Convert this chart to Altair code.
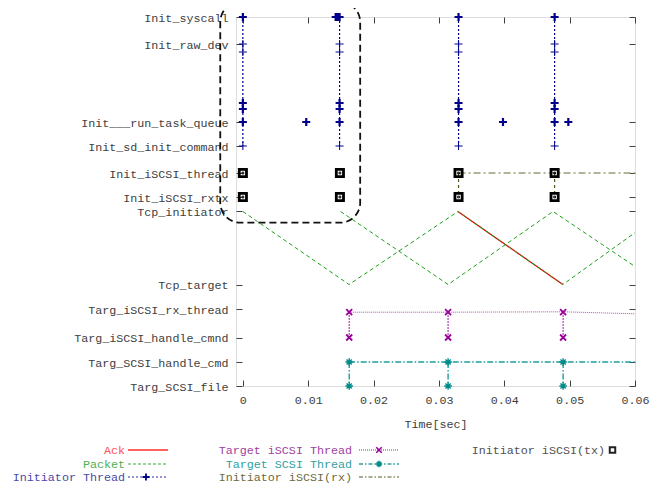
import altair as alt
import pandas as pd

# ---------------- data ----------------
lane_names = ["Init_syscall", "Init_raw_dev", "Init___run_task_queue", "Init_sd_init_command",
              "Init_iSCSI_thread", "Init_iSCSI_rxtx", "Tcp_initiator", "Tcp_target",
              "Targ_iSCSI_rx_thread", "Targ_iSCSI_handle_cmnd", "Targ_SCSI_handle_cmd", "Targ_SCSI_file"]
lane_levels = [36.9, 34.2, 26.4, 24.0, 21.3, 18.9, 17.45, 10.15, 7.7, 4.85, 2.4, 0.0]
x_ticks = [0, 0.01, 0.02, 0.03, 0.04, 0.05, 0.06]

# Initiator thread
init_cols = [0.0, 0.0148, 0.0330, 0.0477]
init_thin_levels = [34.2, 33.4, 24.0]
init_bold_levels = [36.9, 28.3, 27.7, 26.4]
init_extra_t = [0.0097, 0.0398, 0.0498]
init_extra_level = 26.4
init_burst_t = [0.0142, 0.0144, 0.0146]
init_burst_level = 36.9
init_span = [36.9, 24.0]

# Initiator iSCSI (tx) squares
tx_cols = [0.0, 0.01485, 0.0330, 0.0477]
tx_levels = [21.3, 18.9]

# Initiator iSCSI (rx) lines
rx_h_t = [0.0330, 0.0477, 0.0600]
rx_h_level = 21.3
rx_v_t = [0.0330, 0.0477]
rx_v_span = [21.3, 18.9]

# Packets and ack
pktA_t = [0.0, 0.01625, 0.0329, 0.04896, 0.0645]
pktA_y = [17.45, 10.15, 17.45, 10.15, 17.45]
pktB_t = [0.01495, 0.0314, 0.04746, 0.0641]
pktB_y = [17.45, 10.15, 17.45, 10.15]
ack_t = [0.0329, 0.04896]
ack_y = [17.45, 10.15]

# Target iSCSI thread
targ_cols = [0.01627, 0.0314, 0.0490]
tisc_line_t = [0.01627, 0.0314, 0.0490, 0.0600]
tisc_line_y = [7.38, 7.38, 7.42, 7.22]
tisc_levels = [7.38, 4.85]

# Target SCSI thread
tscsi_line_t = [0.01627, 0.0314, 0.0490, 0.0600]
tscsi_line_level = 2.4
tscsi_levels = [2.4, 0.0]

# highlight box
box_t = [-0.00346, 0.01795]
box_y = [38.4, 16.33]

legend_col1 = ["Ack", "Packet", "Initiator Thread"]
legend_col2 = ["Target iSCSI Thread", "Target SCSI Thread", "Initiator iSCSI(rx)"]
legend_col3 = ["Initiator iSCSI(tx)"]

# ---------------- helpers ----------------
FONT = "Liberation Mono"
FS = 11.7
PLUS = "M-1,0L1,0M0,-1L0,1"
XS = "M-1,-1L1,1M-1,1L1,-1"
STAR = "M-1,0L1,0M0,-1L0,1M-0.7,-0.7L0.7,0.7M-0.7,0.7L0.7,-0.7"

xs = alt.Scale(domain=[-0.00105, 0.06], nice=False, zero=False)
ys = alt.Scale(domain=[0, 36.9], nice=False, zero=False)


def X(field="t"):
    return alt.X(f"{field}:Q", scale=xs, axis=None)


def Y(field="y"):
    return alt.Y(f"{field}:Q", scale=ys, axis=None)


def segs(groups):
    rows = []
    for g, (ts, yv) in enumerate(groups):
        for i, (a, b) in enumerate(zip(ts, yv)):
            rows.append({"t": a, "y": b, "g": g, "i": i})
    return pd.DataFrame(rows)


def line_layer(df, color, dash, width=1.0):
    kw = dict(color=color, strokeWidth=width, clip=True)
    if dash:
        kw["strokeDash"] = dash
    return alt.Chart(df).mark_line(**kw).encode(
        x=X(), y=Y(), detail="g:N", order="i:Q")


def pts(ts, yv):
    return pd.DataFrame({"t": ts, "y": yv})


def point_layer(df, shape, color, size, width=1.0):
    return alt.Chart(df).mark_point(shape=shape, filled=False, stroke=color, strokeWidth=width,
                                    size=size, opacity=1, clip=False).encode(x=X(), y=Y())


layers = []

# highlight rounded box
box_df = pd.DataFrame({"t": [box_t[0]], "t2": [box_t[1]], "y": [box_y[0]], "y2": [box_y[1]]})
layers.append(alt.Chart(box_df).mark_rect(fill="white", fillOpacity=0, stroke="#111111", strokeWidth=1.8,
                                          strokeDash=[7, 4], cornerRadius=20, clip=False).encode(
    x=X(), x2="t2:Q", y=Y(), y2="y2:Q"))

# Ack (red) then packets (green)
layers.append(line_layer(segs([(ack_t, ack_y)]), "#e00000", None, 1.2))
layers.append(line_layer(segs([(pktA_t, pktA_y), (pktB_t, pktB_y)]), "#1e9e1e", [4, 3], 1.0))

# Initiator thread verticals and markers
layers.append(line_layer(segs([([c, c], init_span) for c in init_cols]), "#00008b", [2, 2], 1.2))
thin = pts([c for c in init_cols for _ in init_thin_levels], [l for _ in init_cols for l in init_thin_levels])
bold = pts([c for c in init_cols for _ in init_bold_levels] + init_extra_t + init_burst_t,
           [l for _ in init_cols for l in init_bold_levels] + [init_extra_level] * len(init_extra_t)
           + [init_burst_level] * len(init_burst_t))
layers.append(point_layer(thin, PLUS, "#00008b", 64, 1.0))
layers.append(point_layer(bold, PLUS, "#00008b", 64, 2.2))

# Initiator iSCSI rx lines
layers.append(line_layer(segs([(rx_h_t, [rx_h_level] * len(rx_h_t))]), "#9a9a78", [7, 3, 2, 3], 1.5))
layers.append(line_layer(segs([([c, c], rx_v_span) for c in rx_v_t]), "#55551e", [3, 3], 1.2))

# tx squares
sq = pts([c for c in tx_cols for _ in tx_levels], [l for _ in tx_cols for l in tx_levels])
layers.append(point_layer(sq, "square", "#000000", 52, 2.8))
layers.append(point_layer(sq, "square", "#000000", 3, 1.0))

# Target iSCSI thread
layers.append(line_layer(segs([(tisc_line_t, tisc_line_y)]), "#b050b0", [1, 1], 1.0))
layers.append(line_layer(segs([([c, c], tisc_levels) for c in targ_cols]), "#990099", [1.5, 1.5], 1.2))
tis = pts([c for c in targ_cols for _ in tisc_levels], [l for _ in targ_cols for l in tisc_levels])
layers.append(point_layer(tis, XS, "#990099", 36, 1.8))

# Target SCSI thread
layers.append(line_layer(segs([(tscsi_line_t, [tscsi_line_level] * len(tscsi_line_t))]), "#20a0a0",
                         [6, 2, 1.5, 2], 1.4))
layers.append(line_layer(segs([([c, c], tscsi_levels) for c in targ_cols]), "#008b8b", [6, 2, 1.5, 2], 1.2))
tsc = pts([c for c in targ_cols for _ in tscsi_levels], [l for _ in targ_cols for l in tscsi_levels])
layers.append(point_layer(tsc, STAR, "#008b8b", 56, 1.4))

# ---------------- axes carriers ----------------
label_expr = ("[" + ",".join(f"'{n}'" for n in lane_names) + "][indexof(["
              + ",".join(str(v) for v in lane_levels) + "], datum.value)]")
axis_df = pd.DataFrame({"t": [0.0] * len(lane_levels), "y": lane_levels})
common = dict(tickSize=6, offset=-6, domain=False, grid=False, tickColor="#404040")
layers.append(alt.Chart(axis_df).mark_point(opacity=0).encode(
    x=alt.X("t:Q", scale=xs, axis=alt.Axis(orient="bottom", values=x_ticks, format="~g", labelPadding=8,
                                           labelFlush=False, labelOverlap=False,
                                           labelFont=FONT, labelFontSize=FS, labelColor="#404040",
                                           title="Time[sec]", titleFont=FONT, titleFontSize=FS,
                                           titleFontWeight="normal", titleColor="#404040", titlePadding=13,
                                           **common)),
    y=alt.Y("y:Q", scale=ys, axis=alt.Axis(orient="left", values=lane_levels, labelExpr=label_expr,
                                           labelPadding=8, labelFont=FONT, labelFontSize=FS,
                                           labelFlush=False, labelOverlap=False,
                                           labelColor="#404040", title=None, **common))))
layers.append(alt.Chart(axis_df).mark_point(opacity=0).encode(
    x=alt.X("t:Q", scale=xs, axis=alt.Axis(orient="top", values=x_ticks, labels=False, title=None,
                                           tickSize=6, offset=-6, domain=False, grid=False,
                                           tickColor="#404040")),
    y=alt.Y("y:Q", scale=ys, axis=alt.Axis(orient="right", values=lane_levels, labels=False, title=None,
                                           **common))))

# ---------------- manual key (gnuplot style) ----------------
one = pd.DataFrame({"a": [0]})
row_y = [433, 447, 460]


def key_text(label, color, xr, yv):
    return alt.Chart(one).mark_text(text=label, align="right", baseline="middle", font=FONT, fontSize=FS,
                                    color=color).encode(x=alt.value(xr), y=alt.value(yv))


def key_rule(color, x1, x2, yv, dash, width):
    kw = dict(color=color, strokeWidth=width)
    if dash:
        kw["strokeDash"] = dash
    return alt.Chart(one).mark_rule(**kw).encode(x=alt.value(x1), x2=alt.value(x2), y=alt.value(yv))


def key_point(shape, color, xv, yv, size, width):
    return alt.Chart(one).mark_point(shape=shape, filled=False, stroke=color, strokeWidth=width, size=size,
                                     opacity=1).encode(x=alt.value(xv), y=alt.value(yv))


c1_text = ["#ff5050", "#4caf4c", "#4848a8"]
c2_text = ["#a040a0", "#30a0a0", "#6a6a40"]
for lab, col, yv in zip(legend_col1, c1_text, row_y):
    layers.append(key_text(lab, col, -111, yv))
for lab, col, yv in zip(legend_col2, c2_text, row_y):
    layers.append(key_text(lab, col, 116, yv))
layers.append(key_text(legend_col3[0], "#505050", 369, row_y[0]))

layers.append(key_rule("#ff6060", -108, -68, row_y[0], None, 2))
layers.append(key_rule("#3aa83a", -108, -68, row_y[1], [3, 2], 1.2))
layers.append(key_rule("#3030a0", -108, -68, row_y[2], [2, 2], 1.2))
layers.append(key_point(PLUS, "#00008b", -90, row_y[2], 49, 1.8))
layers.append(key_rule("#c070c0", 123, 163, row_y[0], [1, 1], 1.5))
layers.append(key_point(XS, "#990099", 143, row_y[0], 30, 1.6))
layers.append(key_rule("#30a0a0", 123, 163, row_y[1], [4, 2, 1.5, 2], 1.3))
layers.append(key_point(STAR, "#008b8b", 143, row_y[1], 40, 1.5))
layers.append(key_rule("#55552a", 123, 163, row_y[2], [4, 2, 1.5, 2], 1.2))
layers.append(key_point("square", "#222222", 376.5, row_y[0], 30, 2.0))

chart = alt.layer(*layers).resolve_scale(x="shared", y="shared").resolve_axis(
    x="independent", y="independent").properties(
    width=399, height=369,
    padding={"left": 228, "top": 9, "right": 18, "bottom": 101},
    autosize=alt.AutoSizeParams(type="none"),
).configure_view(stroke="#404040", strokeWidth=1.2).configure(background="white")

chart.save("out.html", embed_options={"renderer": "svg", "actions": False})
